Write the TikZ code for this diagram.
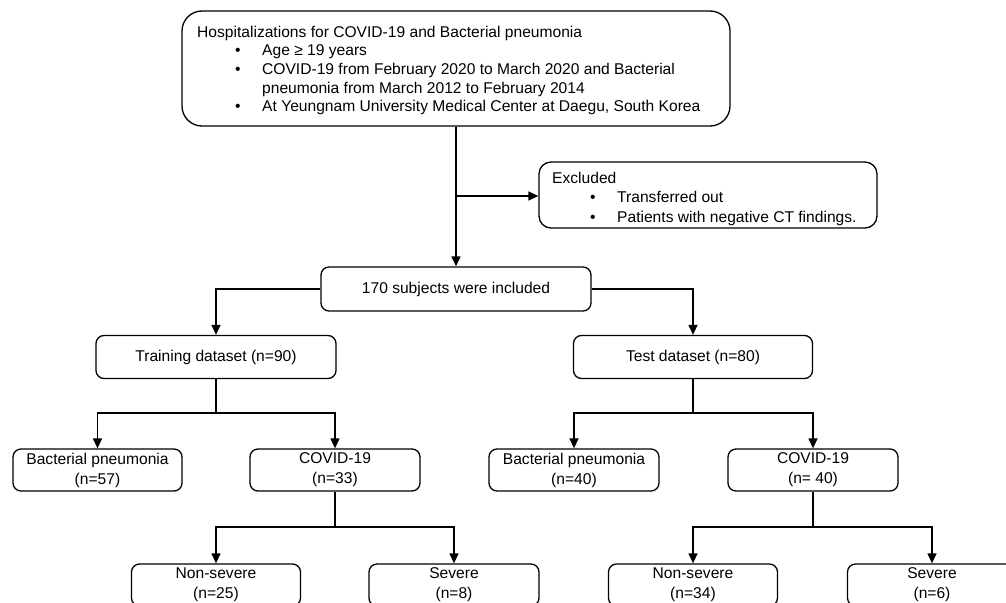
\documentclass[tikz,border=0pt]{standalone}
\usepackage{fontspec}
\setmainfont{Liberation Sans}
\usetikzlibrary{arrows.meta}
\tikzset{
  base/.style={font=\fontsize{15.6pt}{20pt}\selectfont},
  box/.style={base, draw, line width=1.3pt, rounded corners=8pt, inner sep=0pt, align=center, minimum height=42pt},
  line/.style={line width=1.3pt},
  arr/.style={line width=1.3pt, -{Triangle[length=10pt,width=9pt]}},
  txt/.style={font=\fontsize{15.6pt}{18.6pt}\selectfont, inner sep=0pt, align=left, anchor=north west}
}
\newcommand{\bitem}[1]{\hspace*{38pt}\makebox[27pt][l]{•}#1}
\begin{document}
\begin{tikzpicture}[x=1pt,y=-1pt]
\useasboundingbox (0,0) rectangle (1006,602);
\clip (0,0) rectangle (1006,602);
% boxes
\node[box, rounded corners=20pt, minimum width=548pt, minimum height=115pt] (top) at (456,68.5) {};
\node[txt] (toptxt) at (197,25.7) {Hospitalizations for COVID-19 and Bacterial pneumonia\\
\bitem{Age ≥ 19 years}\\
\bitem{COVID-19 from February 2020 to March 2020 and Bacterial}\\
\hspace*{65pt}pneumonia from March 2012 to February 2014\\
\bitem{At Yeungnam University Medical Center at Daegu, South Korea}};
\node[box, rounded corners=12pt, minimum width=338pt, minimum height=66pt] (excl) at (708,195) {};
\node[txt, font=\fontsize{15.6pt}{19.5pt}\selectfont] (excltxt) at (552,171.7) {Excluded\\
\bitem{Transferred out}\\
\bitem{Patients with negative CT findings.}};
\node[box, minimum width=270pt, minimum height=44pt] (inc) at (456,289) {170 subjects were included};
\node[box, minimum width=240pt, minimum height=43pt] (train) at (216,357) {Training dataset (n=90)};
\node[box, minimum width=239pt, minimum height=43pt] (test) at (693,357) {Test dataset (n=80)};
\node[box, minimum width=169pt] (bp1) at (97.5,470) {Bacterial pneumonia\\(n=57)};
\node[box, minimum width=170pt] (cv1) at (335,470) {COVID-19\\(n=33)};
\node[box, minimum width=170pt] (bp2) at (574,470) {Bacterial pneumonia\\(n=40)};
\node[box, minimum width=170pt] (cv2) at (813,470) {COVID-19\\(n= 40)};
\node[box, minimum width=169pt] (ns1) at (216,585) {Non-severe\\(n=25)};
\node[box, minimum width=170pt] (sv1) at (454,585) {Severe\\(n=8)};
\node[box, minimum width=169pt] (ns2) at (693,585) {Non-severe\\(n=34)};
\node[box, minimum width=169pt] (sv2) at (932,585) {Severe\\(n=6)};
% junctions
\coordinate (jx) at (456,196);
\coordinate (j1) at (216,413);
\coordinate (j2) at (693,413);
\coordinate (j3) at (335,527);
\coordinate (j4) at (813,527);
% connectors
\draw[arr] (top.south) -- (inc.north);
\draw[arr] (jx) -- (excl.west |- jx);
\draw[arr] (inc.west) -| (train.north);
\draw[arr] (inc.east) -| (test.north);
\draw[line] (train.south) -- (j1);
\draw[arr] (j1) -| (bp1.north);
\draw[arr] (j1) -| (cv1.north);
\draw[line] (test.south) -- (j2);
\draw[arr] (j2) -| (bp2.north);
\draw[arr] (j2) -| (cv2.north);
\draw[line] (cv1.south) -- (j3);
\draw[arr] (j3) -| (ns1.north);
\draw[arr] (j3) -| (sv1.north);
\draw[line] (cv2.south) -- (j4);
\draw[arr] (j4) -| (ns2.north);
\draw[arr] (j4) -| (sv2.north);
\end{tikzpicture}
\end{document}
